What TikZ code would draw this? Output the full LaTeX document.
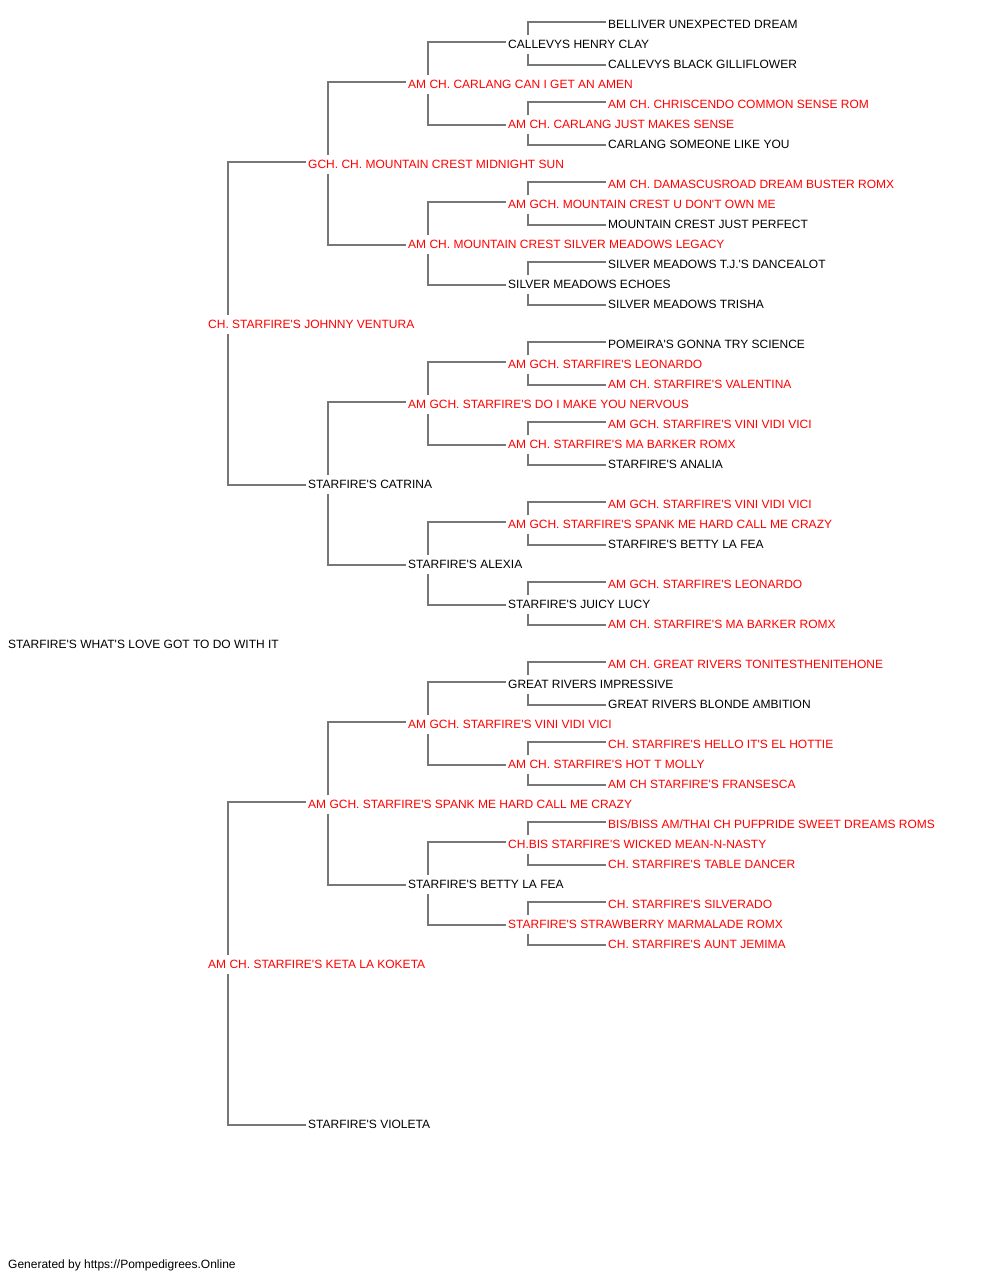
\documentclass[tikz,border=0pt]{standalone}
\usepackage{fontspec}
\setmainfont{Liberation Sans}[Ligatures=TeXOff]
\usepackage{tikz}
\definecolor{champ}{HTML}{FF0000}
\definecolor{plain}{HTML}{000000}
\definecolor{wire}{HTML}{777777}
\tikzstyle{dog} = [anchor = base west, inner sep = 0pt, text height = 13.5pt, text depth = 5.5pt, font = \fontsize{12}{14}\selectfont]
\tikzstyle{link} = [draw = wire, line width = 1.5pt]
\newcommand{\dog}[5]{\node [dog, text = #4] (#1) at (#2, #3 + 4.5) {#5};}

\begin{document}
\begin{tikzpicture}[x = 1pt, y = -1pt]
        \useasboundingbox (0, 0) rectangle (1000, 1280);

        \dog{p}{8}{644}{plain}{STARFIRE'S WHAT'S LOVE GOT TO DO WITH IT}

        \dog{s}{208}{324}{champ}{CH. STARFIRE'S JOHNNY VENTURA}
        \dog{d}{208}{964}{champ}{AM CH. STARFIRE'S KETA LA KOKETA}

        \dog{ss}{308}{164}{champ}{GCH. CH. MOUNTAIN CREST MIDNIGHT SUN}
        \dog{sd}{308}{484}{plain}{STARFIRE'S CATRINA}
        \dog{ds}{308}{804}{champ}{AM GCH. STARFIRE'S SPANK ME HARD CALL ME CRAZY}
        \dog{dd}{308}{1124}{plain}{STARFIRE'S VIOLETA}

        \dog{sss}{408}{84}{champ}{AM CH. CARLANG CAN I GET AN AMEN}
        \dog{ssd}{408}{244}{champ}{AM CH. MOUNTAIN CREST SILVER MEADOWS LEGACY}
        \dog{sds}{408}{404}{champ}{AM GCH. STARFIRE'S DO I MAKE YOU NERVOUS}
        \dog{sdd}{408}{564}{plain}{STARFIRE'S ALEXIA}
        \dog{dss}{408}{724}{champ}{AM GCH. STARFIRE'S VINI VIDI VICI}
        \dog{dsd}{408}{884}{plain}{STARFIRE'S BETTY LA FEA}

        \dog{ssss}{508}{44}{plain}{CALLEVYS HENRY CLAY}
        \dog{sssd}{508}{124}{champ}{AM CH. CARLANG JUST MAKES SENSE}
        \dog{ssds}{508}{204}{champ}{AM GCH. MOUNTAIN CREST U DON'T OWN ME}
        \dog{ssdd}{508}{284}{plain}{SILVER MEADOWS ECHOES}
        \dog{sdss}{508}{364}{champ}{AM GCH. STARFIRE'S LEONARDO}
        \dog{sdsd}{508}{444}{champ}{AM CH. STARFIRE'S MA BARKER ROMX}
        \dog{sdds}{508}{524}{champ}{AM GCH. STARFIRE'S SPANK ME HARD CALL ME CRAZY}
        \dog{sddd}{508}{604}{plain}{STARFIRE'S JUICY LUCY}
        \dog{dsss}{508}{684}{plain}{GREAT RIVERS IMPRESSIVE}
        \dog{dssd}{508}{764}{champ}{AM CH. STARFIRE'S HOT T MOLLY}
        \dog{dsds}{508}{844}{champ}{CH.BIS STARFIRE'S WICKED MEAN-N-NASTY}
        \dog{dsdd}{508}{924}{champ}{STARFIRE'S STRAWBERRY MARMALADE ROMX}

        \dog{sssss}{608}{24}{plain}{BELLIVER UNEXPECTED DREAM}
        \dog{ssssd}{608}{64}{plain}{CALLEVYS BLACK GILLIFLOWER}
        \dog{sssds}{608}{104}{champ}{AM CH. CHRISCENDO COMMON SENSE ROM}
        \dog{sssdd}{608}{144}{plain}{CARLANG SOMEONE LIKE YOU}
        \dog{ssdss}{608}{184}{champ}{AM CH. DAMASCUSROAD DREAM BUSTER ROMX}
        \dog{ssdsd}{608}{224}{plain}{MOUNTAIN CREST JUST PERFECT}
        \dog{ssdds}{608}{264}{plain}{SILVER MEADOWS T.J.'S DANCEALOT}
        \dog{ssddd}{608}{304}{plain}{SILVER MEADOWS TRISHA}
        \dog{sdsss}{608}{344}{plain}{POMEIRA'S GONNA TRY SCIENCE}
        \dog{sdssd}{608}{384}{champ}{AM CH. STARFIRE'S VALENTINA}
        \dog{sdsds}{608}{424}{champ}{AM GCH. STARFIRE'S VINI VIDI VICI}
        \dog{sdsdd}{608}{464}{plain}{STARFIRE'S ANALIA}
        \dog{sddss}{608}{504}{champ}{AM GCH. STARFIRE'S VINI VIDI VICI}
        \dog{sddsd}{608}{544}{plain}{STARFIRE'S BETTY LA FEA}
        \dog{sddds}{608}{584}{champ}{AM GCH. STARFIRE'S LEONARDO}
        \dog{sdddd}{608}{624}{champ}{AM CH. STARFIRE'S MA BARKER ROMX}
        \dog{dssss}{608}{664}{champ}{AM CH. GREAT RIVERS TONITESTHENITEHONE}
        \dog{dsssd}{608}{704}{plain}{GREAT RIVERS BLONDE AMBITION}
        \dog{dssds}{608}{744}{champ}{CH. STARFIRE'S HELLO IT'S EL HOTTIE}
        \dog{dssdd}{608}{784}{champ}{AM CH STARFIRE'S FRANSESCA}
        \dog{dsdss}{608}{824}{champ}{BIS/BISS AM/THAI CH PUFPRIDE SWEET DREAMS ROMS}
        \dog{dsdsd}{608}{864}{champ}{CH. STARFIRE'S TABLE DANCER}
        \dog{dsdds}{608}{904}{champ}{CH. STARFIRE'S SILVERADO}
        \dog{dsddd}{608}{944}{champ}{CH. STARFIRE'S AUNT JEMIMA}

        \foreach \p in {s, d, ss, sd, ds, sss, ssd, sds, sdd, dss, dsd,
                        ssss, sssd, ssds, ssdd, sdss, sdsd, sdds, sddd,
                        dsss, dssd, dsds, dsdd}
        {
            \draw [link] ([xshift = 20pt] \p.north west) |- ([xshift = -2pt, yshift = 2.5pt] \p s.west);
            \draw [link] ([xshift = 20pt] \p.south west) |- ([xshift = -2pt, yshift = -0.5pt] \p d.west);
        }

        \node [dog, text = plain] (credit) at (8, 1268.5) {Generated by https://Pompedigrees.Online};
    \end{tikzpicture}
\end{document}
